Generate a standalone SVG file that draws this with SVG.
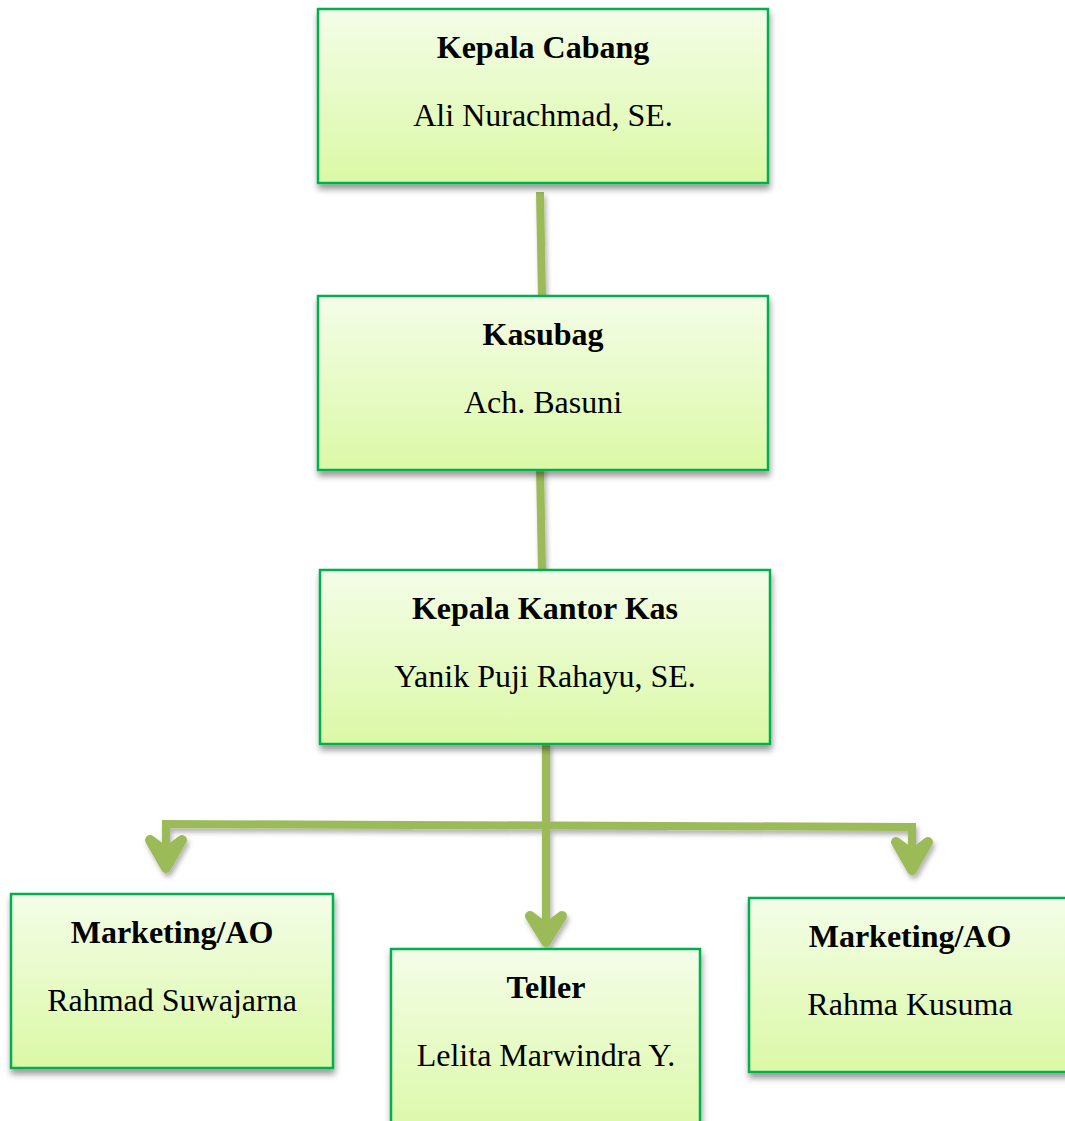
<svg xmlns="http://www.w3.org/2000/svg" width="1065" height="1121" viewBox="0 0 1065 1121">
<defs>
<linearGradient id="g" x1="0" y1="0" x2="0" y2="1">
<stop offset="0" stop-color="#f4fde8"/>
<stop offset="1" stop-color="#dbf9a6"/>
</linearGradient>
<filter id="sh" x="-10%" y="-10%" width="120%" height="130%">
<feDropShadow dx="1" dy="5" stdDeviation="3" flood-color="#000" flood-opacity="0.4"/>
</filter>
<filter id="lsh" x="-50%" y="-10%" width="200%" height="130%">
<feDropShadow dx="2" dy="4" stdDeviation="2.5" flood-color="#000" flood-opacity="0.3"/>
</filter>
</defs>
<style>
.box{fill:url(#g);stroke:#00b050;stroke-width:2.5;filter:url(#sh)}
.t{font-family:"Liberation Serif","Times New Roman",serif;font-size:32px;text-anchor:middle;fill:#000}
.b{font-weight:bold}
.c{fill:none;stroke:#9bbb59;stroke-width:8}
.a{fill:#9bbb59;stroke:#9bbb59;stroke-width:10;stroke-linecap:round;stroke-linejoin:round}
</style>
<g id="connectors" filter="url(#lsh)">
<line class="c" x1="540" y1="192" x2="542" y2="297"/>
<line class="c" x1="540" y1="466" x2="542" y2="571"/>
<line class="c" x1="546" y1="744" x2="546" y2="935"/>
<polyline class="c" points="166,866 166,824 912,827 912,866"/>
<path class="a" d="M150,840 L166,868 L182,840 L166,852 Z"/>
<path class="a" d="M530,916 L546,942 L562,916 L546,928 Z"/>
<path class="a" d="M896,842 L912,870 L928,842 L912,854 Z"/>
</g>
<g id="kepala-cabang">
<rect class="box" x="318" y="9" width="450" height="174"/>
<text class="t b" x="543" y="58">Kepala Cabang</text>
<text class="t" x="543" y="126">Ali Nurachmad, SE.</text>
</g>
<g id="kasubag">
<rect class="box" x="318" y="296" width="450" height="174"/>
<text class="t b" x="543" y="345">Kasubag</text>
<text class="t" x="543" y="413">Ach. Basuni</text>
</g>
<g id="kepala-kantor-kas">
<rect class="box" x="320" y="570" width="450" height="174"/>
<text class="t b" x="545" y="619">Kepala Kantor Kas</text>
<text class="t" x="545" y="687">Yanik Puji Rahayu, SE.</text>
</g>
<g id="marketing-1">
<rect class="box" x="11" y="894" width="322" height="174"/>
<text class="t b" x="172" y="943">Marketing/AO</text>
<text class="t" x="172" y="1011">Rahmad Suwajarna</text>
</g>
<g id="teller">
<rect class="box" x="391" y="949" width="309" height="190"/>
<text class="t b" x="546" y="998">Teller</text>
<text class="t" x="546" y="1066">Lelita Marwindra Y.</text>
</g>
<g id="marketing-2">
<rect class="box" x="749" y="898" width="322" height="174"/>
<text class="t b" x="910" y="947">Marketing/AO</text>
<text class="t" x="910" y="1015">Rahma Kusuma</text>
</g>
</svg>
